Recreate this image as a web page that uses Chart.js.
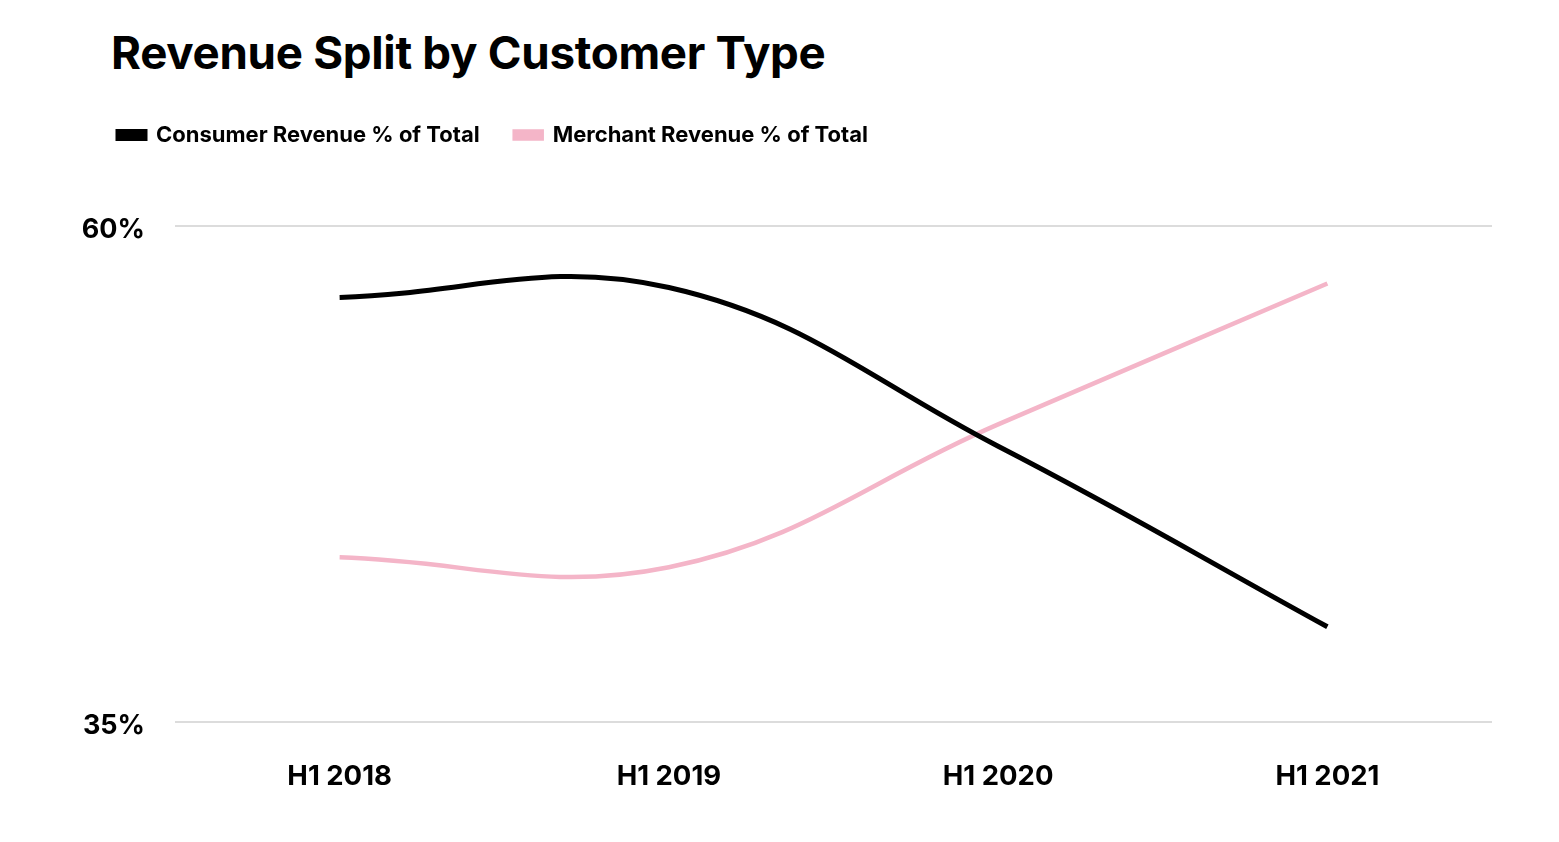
<!DOCTYPE html>
<html>
<head>
<meta charset="utf-8">
<script src="https://cdn.jsdelivr.net/npm/chart.js@4/dist/chart.umd.min.js"></script>
<style>
  html, body { margin: 0; padding: 0; background: #fff; }
  #wrap { position: relative; width: 1559px; height: 842px; }
  #title {
    position: absolute; left: 111px; top: 25px; margin: 0;
    font-family: Inter, "Noto Sans", sans-serif; font-weight: 700;
    font-size: 45.7px; color: #000; letter-spacing: -0.3px;
  }
  canvas { position: absolute; left: 0; top: 0; }
</style>
</head>
<body>
<div id="wrap">
  <h1 id="title">Revenue Split by Customer Type</h1>
  <canvas id="lineChart" width="1559" height="842"></canvas>
</div>
<script>
// Data
const labels = ['H1 2018', 'H1 2019', 'H1 2020', 'H1 2021'];
const consumerShare = [56.4, 56.9, 48.9, 39.8];
const merchantShare = [43.3, 42.8, 50.0, 57.1];
const yTicks = [35, 60];

const fontFamily = 'Inter, "Noto Sans", sans-serif';

// push the plot area down a bit below the legend
const legendGap = {
  id: 'legendGap',
  beforeInit(chart) {
    const fit = chart.legend.fit;
    chart.legend.fit = function () {
      fit.call(this);
      this.height += 70;
    };
  }
};

const ctx = document.getElementById('lineChart').getContext('2d');
const lineChart = new Chart(ctx, {
  type: 'line',
  data: {
    labels: labels,
    datasets: [
      {
        label: 'Consumer Revenue % of Total',
        data: consumerShare,
        borderColor: '#000000',
        backgroundColor: '#000000',
        borderWidth: 5,
        pointRadius: 0,
        tension: 0.4
      },
      {
        label: 'Merchant Revenue % of Total',
        data: merchantShare,
        borderColor: '#F4B5C8',
        backgroundColor: '#F4B5C8',
        borderWidth: 4.5,
        pointRadius: 0,
        tension: 0.4
      }
    ]
  },
  plugins: [legendGap],
  options: {
    responsive: false,
    animation: false,
    devicePixelRatio: 1,
    layout: {
      padding: { top: 89, left: 83, right: 67, bottom: 11 }
    },
    plugins: {
      title: { display: false },
      tooltip: { enabled: false },
      legend: {
        position: 'top',
        align: 'start',
        labels: {
          boxWidth: 27,
          boxHeight: 7,
          padding: 35,
          color: '#000',
          font: { family: fontFamily, size: 22, weight: '700' }
        }
      }
    },
    scales: {
      x: {
        offset: true,
        grid: { display: false, drawTicks: false },
        border: { display: false },
        ticks: {
          color: '#000',
          padding: 38,
          font: { family: fontFamily, size: 27.5, weight: '700' }
        }
      },
      y: {
        min: 35,
        max: 60,
        afterBuildTicks(axis) {
          axis.ticks = yTicks.map(v => ({ value: v }));
        },
        afterFit(axis) {
          axis.width = 92;
        },
        grid: { color: '#DCDCDC', lineWidth: 2, drawTicks: false },
        border: { display: false },
        ticks: {
          color: '#000',
          padding: 30,
          labelOffset: 4,
          font: { family: fontFamily, size: 27, weight: '700' },
          callback: v => v + '%'
        }
      }
    }
  }
});
</script>
</body>
</html>
